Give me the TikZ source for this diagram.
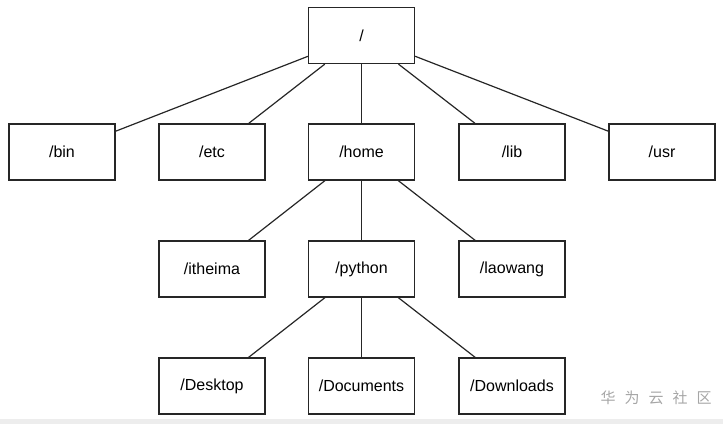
\documentclass[tikz,border=0pt]{standalone}
\usepackage{fontspec}
\setmainfont{Liberation Sans}
\newfontfamily\cjk{Noto Sans CJK SC}

\begin{document}
\begin{tikzpicture}[x=1pt,y=-1pt,
  dir/.style={draw=black!85, line width=1.2pt, minimum width=106pt, minimum height=56pt,
    inner sep=0pt, font=\fontsize{16}{19}\selectfont},
  edge/.style={draw=black!85, line width=1.2pt}]
  \useasboundingbox (0,0) rectangle (723,424);
  \fill[black!7] (0,419) rectangle (723,424);

  % Root
  \node[dir] (root) at (361.5,35.5) {/};

  % First level
  \node[dir] (bin)  at (62,152)    {/bin};
  \node[dir] (etc)  at (212,152)   {/etc};
  \node[dir] (home) at (361.5,152) {/home};
  \node[dir] (lib)  at (512,152)   {/lib};
  \node[dir] (usr)  at (662,152)   {/usr};

  % Users
  \node[dir] (itheima) at (212,269)   {/itheima};
  \node[dir] (python)  at (361.5,269) {/python};
  \node[dir] (laowang) at (512,269)   {/laowang};

  % Folders of python
  \node[dir] (desktop)   at (212,386)   {/Desktop};
  \node[dir] (documents) at (361.5,386) {/Documents};
  \node[dir] (downloads) at (512,386)   {/Downloads};

  \foreach \a/\b in {root/bin, root/etc, root/home, root/lib, root/usr,
      home/itheima, home/python, home/laowang,
      python/desktop, python/documents, python/downloads}
    \draw[edge] (\a) -- (\b);

  % Watermark
  \node[text=black!35, font=\cjk\fontsize{15}{18}\selectfont] (mark) at (656,398)
    {华\hspace{9pt}为\hspace{9pt}云\hspace{9pt}社\hspace{9pt}区};
\end{tikzpicture}
\end{document}
